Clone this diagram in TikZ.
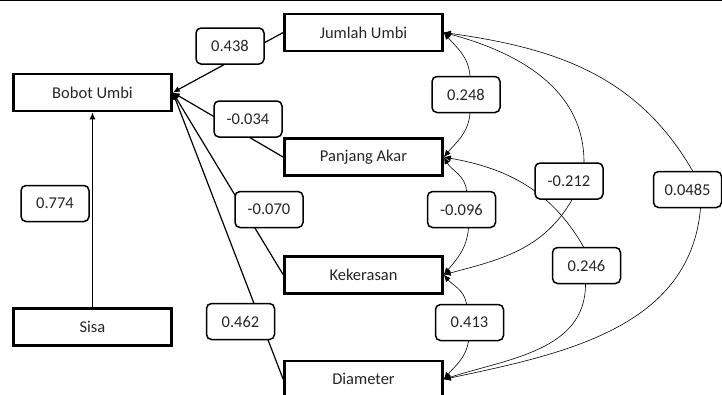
\documentclass[tikz,border=0pt]{standalone}
\usepackage{fontspec}
\setmainfont{Carlito}
\usetikzlibrary{arrows.meta, positioning, backgrounds}

\begin{document}
\begin{tikzpicture}[
    x=1pt, y=-1pt,
    >=Latex,
    font=\fontsize{16.5}{20}\selectfont,
    var/.style = {draw, rectangle, line width=2.6pt, minimum width=158pt, minimum height=37pt, align=center, text=black!85},
    coef/.style = {draw, rectangle, rounded corners=5pt, line width=1.5pt, fill=white, minimum width=68pt, minimum height=36pt, inner sep=2pt, text=black!85},
    effect/.style = {-{Latex[length=7pt, width=6pt]}, line width=1.2pt},
    corr/.style = {{Latex[length=7pt, width=6pt]}-{Latex[length=7pt, width=6pt]}, line width=0.6pt}
]
\useasboundingbox (0,0) rectangle (722,394);

% top rule of the figure
\draw[line width=1.2pt] (0,0.6) -- (722,0.6);

% =========================================================
% LEFT: dependent variable and residual
% =========================================================
\node[var] (bobot) at (92.5, 92.5) {Bobot Umbi};
\node[var, below=195pt of bobot] (sisa) {Sisa};

% =========================================================
% MIDDLE COLUMN: predictors (stacked)
% =========================================================
\node[var] (jumlah) at (363.5, 32.5) {Jumlah Umbi};
\node[var, below=85pt of jumlah] (panjang) {Panjang Akar};
\node[var, below=78pt of panjang] (keras) {Kekerasan};
\node[var, below=65pt of keras] (diam) {Diameter};

% =========================================================
% PATH COEFFICIENTS (direct effects)
% =========================================================
\node[coef] (c438) at (230, 46) {0.438};
\node[coef] (c034) at (248, 119) {-0.034};
\node[coef] (c070) at (269, 209.5) {-0.070};
\node[coef] (c462) at (240.5, 321.5) {0.462};
\node[coef] (c774) at (55, 203.5) {0.774};

% =========================================================
% CORRELATIONS between predictors
% =========================================================
\node[coef] (c248) at (466, 94.5) {0.248};
\node[coef] (c096) at (461.5, 209.5) {-0.096};
\node[coef] (c413) at (469.5, 322.5) {0.413};
\node[coef] (c246) at (586.5, 265.5) {0.246};
\node[coef] (c212) at (569, 181) {-0.212};
\node[coef] (c0485) at (687.5, 189.5) {0.0485};

% =========================================================
% WIRING (kept behind the coefficient boxes)
% =========================================================
\begin{scope}[on background layer]
% direct effects into Bobot Umbi
\draw[effect] (jumlah.west) -- (bobot.east);
\draw[effect] (panjang.west) -- (bobot.east);
\draw[effect] (keras.west) -- (bobot.east);
\draw[effect] (diam.west) -- (bobot.east);
\draw[effect] (sisa.north) -- (bobot.south);

% neighbouring pairs
\draw[corr] (jumlah.east) to[out=-50, in=95] ([xshift=4pt]c248.north)
            -- ([xshift=4pt]c248.south) to[out=-95, in=50] (panjang.east);
\draw[corr] (panjang.east) to[out=-60, in=95] ([xshift=5pt]c096.north)
            -- ([xshift=7pt]c096.south) to[out=-95, in=50] (keras.east);
\draw[corr] (keras.east) to[out=-50, in=100] ([xshift=-3pt]c413.north)
            -- ([xshift=-1pt]c413.south) to[out=-100, in=50] (diam.east);

% longer arcs
\draw[corr] (panjang.east) to[out=-10, in=120] ([xshift=-3pt]c246.north)
            -- ([xshift=-1pt]c246.south) to[out=-90, in=18] (diam.east);
\draw[corr] (jumlah.east) to[out=-15, in=90] ([xshift=15pt]c212.north)
            -- ([xshift=3pt]c212.south) to[out=-120, in=15] (keras.east);
\draw[corr] (jumlah.east) to[out=-8, in=120] ([xshift=5pt]c0485.north)
            -- ([xshift=13pt]c0485.south) to[out=-95, in=12] (diam.east);
\end{scope}

\end{tikzpicture}
\end{document}
